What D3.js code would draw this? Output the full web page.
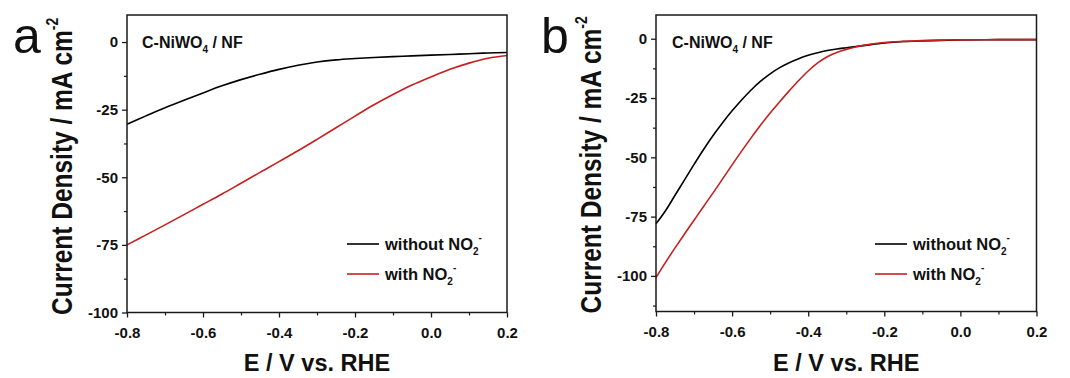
<!DOCTYPE html>
<html><head><meta charset="utf-8">
<script src="https://cdn.jsdelivr.net/npm/d3@7"></script>
<style>
html,body{margin:0;padding:0;background:#fff;}
svg text{font-family:"Liberation Sans",Arial,sans-serif;}
</style></head>
<body><svg id="c" width="1070" height="378"></svg>
<script>
// ---- data ----
const xTicks = [-0.8, -0.6, -0.4, -0.2, 0.0, 0.2];
const xMinorTicks = [-0.7, -0.5, -0.3, -0.1, 0.1];
const yTicksA = [0, -25, -50, -75, -100];
const yTicksB = [0, -25, -50, -75, -100];

// panel a
const aPotential = [-0.8,-0.75,-0.7,-0.65,-0.6,-0.55,-0.5,-0.45,-0.4,-0.35,-0.3,-0.25,-0.2,-0.15,-0.1,-0.05,0,0.05,0.1,0.15,0.2];
const aWithout   = [-30.4,-27.3,-24.3,-21.5,-18.8,-16.2,-13.9,-11.9,-10.1,-8.6,-7.4,-6.6,-6.1,-5.7,-5.4,-5.1,-4.85,-4.6,-4.3,-4.05,-3.85];
const aWith      = [-75,-71.3,-67.6,-63.8,-60,-56.2,-52.2,-48.2,-44.2,-40.2,-36.0,-31.7,-27.4,-23.2,-19.4,-15.9,-12.9,-10.1,-7.8,-6.0,-5.0];

// panel b
const bPotential = [-0.8,-0.775,-0.75,-0.725,-0.7,-0.675,-0.65,-0.625,-0.6,-0.575,-0.55,-0.525,-0.5,-0.475,-0.45,-0.425,-0.4,-0.375,-0.35,-0.325,-0.3,-0.275,-0.25,-0.2,-0.15,-0.1,-0.05,0,0.1,0.2];
const bWithout   = [-78,-72.5,-66,-59.5,-53,-46.7,-40.8,-35.4,-30.4,-25.8,-21.6,-17.9,-14.8,-12.2,-10.1,-8.4,-7.0,-5.9,-5.0,-4.3,-3.8,-3.3,-2.8,-1.8,-1.2,-0.9,-0.7,-0.5,-0.4,-0.4];
const bWith      = [-100.7,-94.3,-88.2,-82.3,-76.5,-70.7,-65.0,-59.1,-53.2,-47.4,-41.8,-36.4,-31.3,-26.6,-22.0,-17.6,-13.6,-10.2,-7.6,-5.8,-4.5,-3.5,-2.7,-1.6,-1.1,-0.8,-0.6,-0.5,-0.4,-0.4];

const panels = [
  {letter:"a", x0:127, x1:507, y0:15, y1:312.5, yDom:[-100,10], yTicks:yTicksA, yMinor:d3.range(-87.5,10,25),
   pot:aPotential, without:aWithout, withN:aWith, letterX:13, titleX:71.5, titleY:315, legX:347, titleTextX:142},
  {letter:"b", x0:656, x1:1036.5, y0:15, y1:311.5, yDom:[-115,10], yTicks:yTicksB, yMinor:d3.range(-112.5,10,25),
   pot:bPotential, without:bWithout, withN:bWith, letterX:541, titleX:600.5, titleY:313.5, legX:875, titleTextX:672}
];

const svg = d3.select("#c");
const axisColor = "#1a1a1a";
const red = "#c81e1e";
const fmtX = d => d.toFixed(1);
const fmtY = d => String(d);

panels.forEach(p => {
  const x = d3.scaleLinear().domain([-0.8,0.2]).range([p.x0,p.x1]);
  const y = d3.scaleLinear().domain(p.yDom).range([p.y1,p.y0]);
  const g = svg.append("g");

  // lines
  const line = (vals) => d3.line().x((d,i)=>x(p.pot[i])).y(d=>y(d)).curve(d3.curveCatmullRom.alpha(0.5))(vals);
  g.append("path").attr("d", line(p.without)).attr("fill","none").attr("stroke","#000").attr("stroke-width",1.6);
  g.append("path").attr("d", line(p.withN)).attr("fill","none").attr("stroke",red).attr("stroke-width",1.6);

  // frame
  g.append("rect").attr("x",p.x0).attr("y",p.y0).attr("width",p.x1-p.x0).attr("height",p.y1-p.y0)
    .attr("fill","none").attr("stroke",axisColor).attr("stroke-width",1.5);

  // x axis
  const xa = g.append("g").attr("transform",`translate(0,${p.y1})`)
    .call(d3.axisBottom(x).tickValues(xTicks).tickFormat(fmtX).tickSize(5).tickSizeOuter(0));
  xa.select(".domain").remove();
  xa.selectAll("line").attr("stroke",axisColor).attr("stroke-width",1.3);
  xa.selectAll("text").attr("font-size",15).attr("font-weight","bold").attr("fill","#111").attr("dy","1.15em");
  const xm = g.append("g").attr("transform",`translate(0,${p.y1})`)
    .call(d3.axisBottom(x).tickValues(xMinorTicks).tickFormat("").tickSize(3));
  xm.select(".domain").remove();
  xm.selectAll("line").attr("stroke",axisColor).attr("stroke-width",1.2);

  // y axis
  const ya = g.append("g").attr("transform",`translate(${p.x0},0)`)
    .call(d3.axisLeft(y).tickValues(p.yTicks).tickFormat(fmtY).tickSize(5).tickSizeOuter(0));
  ya.select(".domain").remove();
  ya.selectAll("line").attr("stroke",axisColor).attr("stroke-width",1.3);
  ya.selectAll("text").attr("font-size",15).attr("font-weight","bold").attr("fill","#111").attr("x",-9);
  const ym = g.append("g").attr("transform",`translate(${p.x0},0)`)
    .call(d3.axisLeft(y).tickValues(p.yMinor).tickFormat("").tickSize(3));
  ym.select(".domain").remove();
  ym.selectAll("line").attr("stroke",axisColor).attr("stroke-width",1.2);

  // axis titles
  g.append("text").attr("x",(p.x0+p.x1)/2).attr("y",371).attr("text-anchor","middle")
    .attr("font-size",23.5).attr("font-weight","bold").attr("fill","#111").text("E / V vs. RHE");
  const yt = g.append("text").attr("transform",`translate(${p.titleX},${p.titleY}) rotate(-90) scale(1,1.2)`)
    .attr("font-size",24.5).attr("font-weight","bold").attr("fill","#111");
  yt.append("tspan").text("Current Density / mA cm");
  yt.append("tspan").attr("dy",-11).attr("font-size",14).text("-2");

  // panel letter
  g.append("text").attr("x",p.letterX).attr("y",53).attr("font-size",50).attr("fill","#111").text(p.letter);

  // inner title
  const tt = g.append("text").attr("x",p.titleTextX).attr("y",48).attr("font-size",16).attr("font-weight","bold").attr("fill","#111");
  tt.append("tspan").text("C-NiWO");
  tt.append("tspan").attr("dy",5).attr("font-size",10).text("4");
  tt.append("tspan").attr("dy",-5).text(" / NF");

  // legend
  const leg = [{t:"without NO",c:"#000",y:244},{t:"with NO",c:red,y:274}];
  leg.forEach(l => {
    g.append("line").attr("x1",p.legX).attr("x2",p.legX+32).attr("y1",l.y).attr("y2",l.y)
      .attr("stroke",l.c).attr("stroke-width",1.6);
    const lt = g.append("text").attr("x",p.legX+38).attr("y",l.y+5.5).attr("font-size",16.5)
      .attr("font-weight","bold").attr("fill","#111");
    lt.append("tspan").text(l.t);
    lt.append("tspan").attr("dy",5).attr("font-size",10).text("2");
    lt.append("tspan").attr("dy",-14).attr("font-size",10).text("-");
  });
});
</script></body></html>
